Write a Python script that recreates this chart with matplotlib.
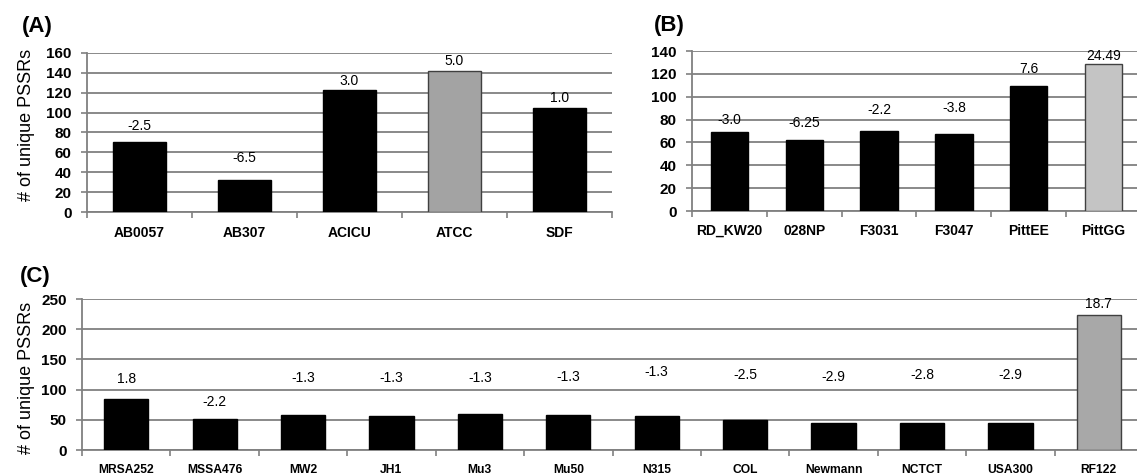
import numpy as np
import matplotlib
matplotlib.use('Agg')
import matplotlib.pyplot as plt

plt.rcParams['font.family'] = ['Liberation Sans', 'DejaVu Sans']

# panel A
a_names = ['AB0057', 'AB307', 'ACICU', 'ATCC', 'SDF']
a_counts = [70, 32, 123, 142, 105]
a_fold = ['-2.5', '-6.5', '3.0', '5.0', '1.0']
a_highlight = [False, False, False, True, False]

# panel B
b_names = ['RD_KW20', '028NP', 'F3031', 'F3047', 'PittEE', 'PittGG']
b_counts = [69, 62, 70, 67, 109, 129]
b_fold = ['-3.0', '-6.25', '-2.2', '-3.8', '7.6', '24.49']
b_highlight = [False, False, False, False, False, True]

# panel C
c_names = ['MRSA252', 'MSSA476', 'MW2', 'JH1', 'Mu3', 'Mu50', 'N315', 'COL',
           'Newmann', 'NCTCT', 'USA300', 'RF122']
c_counts = [84, 52, 58, 57, 60, 58, 57, 50, 45, 44, 44, 224]
c_fold = ['1.8', '-2.2', '-1.3', '-1.3', '-1.3', '-1.3', '-1.3', '-2.5',
          '-2.9', '-2.8', '-2.9', '18.7']
c_highlight = [False] * 11 + [True]

# where the fold-change labels sit (data units), they float freely in the original
a_label_y = [87, 54, 132, 152, 115]
b_label_y = [80, 77, 88, 90, 124, 136]
c_label_y = [118, 80, 119, 119, 119, 121, 129, 124, 121, 125, 124, 242]

GRID = '#808080'


def draw_panel(ax, names, counts, highlight, hl_color, fold, label_y,
               ymax, step, xfs, xpad):
    x = np.arange(len(names))
    colors = [hl_color if h else 'black' for h in highlight]
    edges = ['#404040' if h else 'black' for h in highlight]
    ax.bar(x, counts, width=0.5, color=colors, edgecolor=edges,
           linewidth=1.0, zorder=3)
    ax.set_xlim(-0.5, len(names) - 0.5)
    ax.set_ylim(0, ymax)
    ax.set_yticks(np.arange(0, ymax + 1, step))
    ax.yaxis.grid(True, color=GRID, linewidth=1.3)
    ax.set_axisbelow(True)
    for s in ['top', 'right']:
        ax.spines[s].set_visible(False)
    for s in ['left', 'bottom']:
        ax.spines[s].set_color(GRID)
        ax.spines[s].set_linewidth(1.3)
    ax.set_xticks(x)
    ax.set_xticklabels(names, fontweight='bold', fontsize=xfs)
    ax.tick_params(axis='x', which='major', length=0, pad=xpad)
    ax.set_xticks(np.arange(len(names) + 1) - 0.5, minor=True)
    ax.tick_params(axis='x', which='minor', length=4, color=GRID, width=1.2)
    ax.tick_params(axis='y', length=4, color=GRID, width=1.2, pad=7,
                   labelsize=11)
    for lab in ax.get_yticklabels():
        lab.set_fontweight('bold')
    for i in range(len(names)):
        ax.text(x[i], label_y[i], fold[i], ha='center', va='center',
                fontsize=10, zorder=4)


fig = plt.figure(figsize=(11.37, 4.76), dpi=100)

ax_a = fig.add_axes([0.0765, 0.5546, 0.4617, 0.3341])
draw_panel(ax_a, a_names, a_counts, a_highlight, '#a3a3a3', a_fold, a_label_y,
           160, 20, 10, 10)

ax_b = fig.add_axes([0.6086, 0.5567, 0.3949, 0.3361])
draw_panel(ax_b, b_names, b_counts, b_highlight, '#c4c4c4', b_fold, b_label_y,
           140, 20, 10, 9)

ax_c = fig.add_axes([0.0721, 0.0546, 0.9332, 0.3172])
draw_panel(ax_c, c_names, c_counts, c_highlight, '#a8a8a8', c_fold, c_label_y,
           250, 50, 8.7, 10)

fig.text(0.0325, 0.945, '(A)', fontsize=16, fontweight='bold',
         ha='center', va='center')
fig.text(0.589, 0.947, '(B)', fontsize=16, fontweight='bold',
         ha='center', va='center')
fig.text(0.031, 0.42, '(C)', fontsize=16, fontweight='bold',
         ha='center', va='center')

fig.text(0.0237, 0.737, '# of unique PSSRs', rotation=90, fontsize=13,
         ha='center', va='center')
fig.text(0.0237, 0.205, '# of unique PSSRs', rotation=90, fontsize=13,
         ha='center', va='center')

fig.savefig('out.png', dpi=100)
